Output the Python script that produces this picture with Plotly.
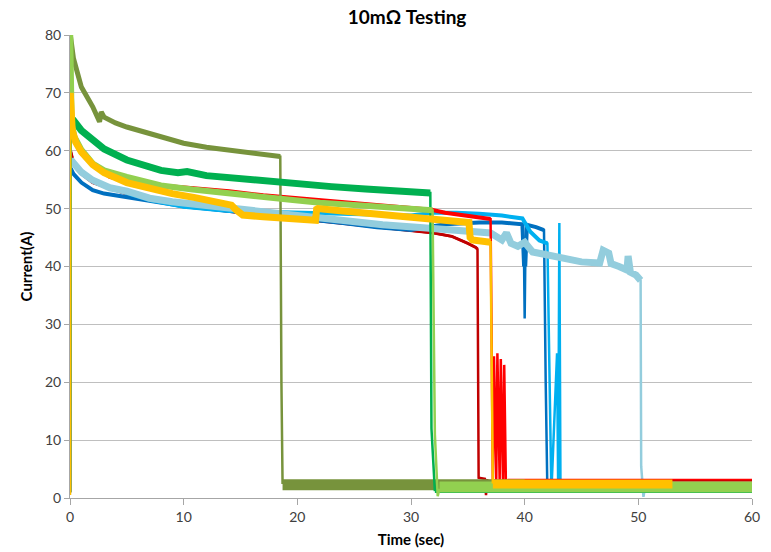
import numpy as np
import plotly.graph_objects as go

# ---------------- data ----------------
x_ticks = [0, 10, 20, 30, 40, 50, 60]
y_ticks = [0, 10, 20, 30, 40, 50, 60, 70, 80]

olive_t = [0, 0.03, 0.3, 1.0, 2.0, 2.6, 2.75, 3.0, 4, 5, 6.5, 8, 10, 12, 14, 16, 18.5, 18.6, 18.7]
olive_a = [1, 80, 76, 71, 67.6, 65, 66.7, 65.8, 64.8, 64.1, 63.2, 62.4, 61.3, 60.6, 60.1, 59.6, 59.0, 20, 2.4]
olive_tail_t = [18.7, 40]
olive_tail_a = [2.3, 2.3]

dgreen_t = [0, 0.05, 0.3, 1, 2, 3, 5, 6.5, 8, 9.5, 10.3, 12, 14, 17, 20, 23, 26, 29, 31.7, 31.8, 32.1]
dgreen_a = [1, 65.5, 65.3, 63.5, 61.8, 60.3, 58.4, 57.4, 56.6, 56.2, 56.4, 55.7, 55.3, 54.7, 54.2, 53.8, 53.4, 53.1, 52.7, 12, 1.2]
dgreen_tail_t = [32.1, 60]
dgreen_tail_a = [1.2, 1.2]

lgreen_t = [0, 0.02, 0.15, 0.4, 1, 2, 3, 5, 8, 10.8, 13.8, 16, 19.6, 22, 24.6, 28, 31.9, 32.0, 32.1, 32.35, 32.5]
lgreen_a = [1, 80, 64.5, 62.4, 60.2, 57.8, 56.6, 55.5, 54.0, 53.3, 52.6, 52.1, 51.5, 51.0, 50.6, 50.2, 49.7, 30, 11, 0.3, 1.6]
lgreen_tail_t = [32.5, 60]
lgreen_tail_a = [1.9, 1.9]

yellow_t = [0, 0.02, 0.2, 0.5, 1, 2, 3, 5, 7, 9, 11, 13, 14.2, 14.6, 15.2, 17, 19, 21.6, 21.7, 21.8,
            24, 27, 30, 32, 34, 35.1, 35.2, 35.4, 37.0, 37.1, 37.2]
yellow_a = [0.5, 70, 63.5, 61.5, 59.8, 57.6, 56.2, 54.5, 53.5, 52.6, 51.9, 51.1, 50.6, 49.8, 48.9, 48.6, 48.3, 48.0, 49.9, 50.0,
            49.6, 49.1, 48.7, 48.4, 47.9, 47.6, 45.0, 44.6, 44.2, 20, 2.5]
yellow_tail_t = [37.2, 53.0]
yellow_tail_a = [2.4, 2.4]

red_t = [0, 0.05, 0.3, 1, 2, 3.5, 5, 8, 11, 14, 17, 20, 24, 28, 31.8, 33, 35, 37.0,
         37.2, 37.3, 37.5, 37.6, 37.8, 37.9, 38.1, 38.2, 38.35, 38.5]
red_a = [1, 64, 62, 59.5, 57.5, 55.5, 54.8, 54.0, 53.5, 53.0, 52.3, 51.8, 51.2, 50.5, 49.8, 49.3, 48.8, 48.2,
         3, 24.5, 3, 25, 3, 24, 2, 23, 2.5, 3.2]
red_tail_t = [38.5, 60]
red_tail_a = [3.2, 3.2]

dred_t = [0, 0.05, 0.3, 1, 2, 5, 10, 15, 20, 25, 30, 32, 33.6, 34.5, 35.0, 35.7, 35.85, 35.95, 36.5, 36.6, 36.7]
dred_a = [1, 60, 58, 56, 54.5, 52.5, 50.5, 49.3, 48.3, 47.3, 46.2, 45.8, 45.2, 44.5, 44.0, 43.3, 43, 3.5, 3.3, 0.5, 3.3]
dred_tail_t = [36.7, 60]
dred_tail_a = [3.0, 3.0]

dblue_t = [0, 0.05, 0.3, 1, 2, 3, 5, 8, 10, 13, 16, 20, 24, 27, 30, 33, 36, 38, 39.8, 39.95, 40.0, 40.05,
           40.2, 41, 41.7, 41.85, 42.0, 42.1]
dblue_a = [1, 57, 56, 54.5, 53.2, 52.6, 52.0, 51.0, 50.4, 49.8, 49.2, 48.4, 47.5, 46.8, 46.3, 47.3, 47.6, 47.6, 47.3, 40, 31, 40,
           47.2, 46.8, 46.3, 20, 1, 2]
dblue_tail_t = [42.1, 60]
dblue_tail_a = [2.0, 2.0]

mblue_t = [0, 0.05, 0.3, 1, 2, 4, 7, 10, 14, 18, 22, 26, 30, 32, 34, 36, 38, 39.8, 40.5, 41.3, 42.0,
           42.35, 42.85, 42.95, 43.05, 43.15, 43.3]
mblue_a = [1, 58.5, 58, 56.5, 55, 53.3, 51.5, 50.3, 49.6, 49.4, 49.2, 49.0, 48.8, 49.3, 49.3, 49.1, 48.8, 48.3, 46, 44.5, 44,
           1, 25, 1, 47.5, 1.5, 2]
mblue_tail_t = [43.3, 60]
mblue_tail_a = [1.9, 1.9]

lblue_t = [0, 0.05, 0.3, 1, 2, 3.5, 5, 7, 9, 10.8, 13.8, 15.8, 18, 21.7, 24.6, 27.5, 30.5, 33.4, 35.5, 37,
           38.0, 38.4, 38.8, 39.4, 40.0, 40.7, 41.5, 42.5, 43.7, 45.0, 46.6, 46.9, 47.4, 47.6, 48.3, 49.0,
           49.1, 49.3, 49.8, 50.2, 50.25, 50.35, 50.45, 50.6]
lblue_a = [1, 58.5, 57.8, 56.3, 54.9, 53.6, 53.0, 51.8, 51.2, 50.8, 50.2, 49.7, 49.3, 48.5, 47.8, 47.2, 46.8, 46.4, 46.2, 45.8,
           44.6, 45.8, 44.0, 43.5, 44.2, 42.5, 42.2, 41.8, 41.2, 40.8, 40.6, 42.8, 42.3, 40.5, 40.0, 39.4,
           41.8, 39.0, 38.5, 37.6, 5.5, 3, 0.2, 2]
lblue_tail_t = [50.6, 60]
lblue_tail_a = [2.0, 2.0]

# ---------------- styling ----------------
# drawing order: bottom -> top
series = [
    (dred_t, dred_a, dred_tail_t, dred_tail_a, "#C00000", 3, 2),
    (dblue_t, dblue_a, dblue_tail_t, dblue_tail_a, "#0070C0", 4, 3),
    (mblue_t, mblue_a, mblue_tail_t, mblue_tail_a, "#00B0F0", 4, 3),
    (lblue_t, lblue_a, lblue_tail_t, lblue_tail_a, "#93CDDD", 7, 3),
    (red_t, red_a, red_tail_t, red_tail_a, "#FF0000", 4, 1.5),
    (olive_t, olive_a, olive_tail_t, olive_tail_a, "#77933C", 5, 11),
    (dgreen_t, dgreen_a, dgreen_tail_t, dgreen_tail_a, "#00B050", 7, 4),
    (lgreen_t, lgreen_a, lgreen_tail_t, lgreen_tail_a, "#92D050", 6, 11),
    (yellow_t, yellow_a, yellow_tail_t, yellow_tail_a, "#FFC000", 7, 9),
]

fig = go.Figure()
for t, a, tt, ta, color, band_w, tail_w in series:
    t_arr = np.array(t, dtype=float)
    a_arr = np.array(a, dtype=float)
    # thin trace for the whole record (drops / spikes)
    fig.add_trace(go.Scatter(x=t_arr, y=a_arr, mode="lines",
                             line=dict(color=color, width=2.5),
                             hoverinfo="skip", showlegend=False))
    # thicker band for the noisy plateau part
    band = np.where(a_arr > 35, a_arr, np.nan)
    fig.add_trace(go.Scatter(x=t_arr, y=band, mode="lines",
                             line=dict(color=color, width=band_w),
                             connectgaps=False, hoverinfo="skip", showlegend=False))
    # thick noisy tail after the drop
    fig.add_trace(go.Scatter(x=tt, y=ta, mode="lines",
                             line=dict(color=color, width=tail_w),
                             hoverinfo="skip", showlegend=False))

font_family = "Lato, 'Open Sans', sans-serif"

fig.update_layout(
    width=771, height=552,
    margin=dict(l=70, r=19, t=35, b=54),
    paper_bgcolor="white", plot_bgcolor="white",
    title=dict(text="<b>10mΩ Testing</b>", x=0.528, xanchor="center", y=0.968, yanchor="middle",
               font=dict(family=font_family, size=19, color="#000000")),
    font=dict(family=font_family, color="#404040"),
    xaxis=dict(range=[0, 60], tickvals=x_ticks, ticktext=[str(v) for v in x_ticks],
               showgrid=False, zeroline=False, showline=True, linecolor="#A6A6A6", linewidth=1,
               ticks="outside", ticklen=6, tickcolor="#A6A6A6", automargin=False,
               tickfont=dict(size=14, color="#404040"),
               title=dict(text="<b>Time (sec)</b>", font=dict(size=15, color="#000000"), standoff=10)),
    yaxis=dict(range=[0, 80], tickvals=y_ticks, ticktext=[str(v) for v in y_ticks],
               showgrid=True, gridcolor="#BFBFBF", gridwidth=1, zeroline=False,
               showline=True, linecolor="#A6A6A6", linewidth=1, automargin=False,
               ticks="outside", ticklen=5, tickcolor="#A6A6A6",
               tickfont=dict(size=14, color="#404040"),
               title=dict(text="<b>Current(A)</b>", font=dict(size=15, color="#000000"), standoff=8)),
)

fig.write_html("out.html")
